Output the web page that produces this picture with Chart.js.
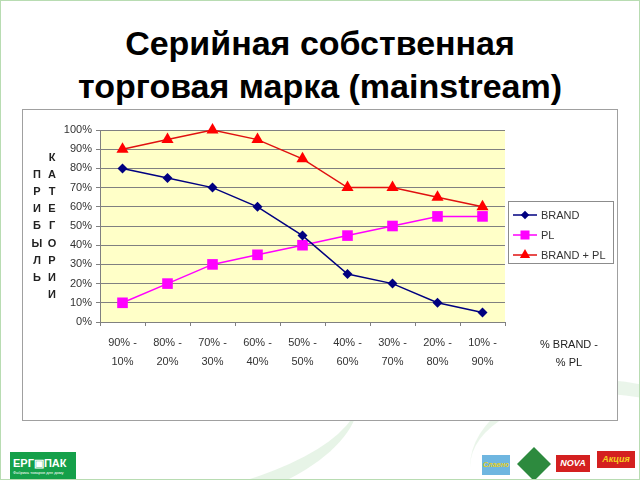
<!DOCTYPE html>
<html>
<head>
<meta charset="utf-8">
<script src="https://cdn.jsdelivr.net/npm/chart.js@4/dist/chart.umd.min.js"></script>
<style>
  html, body { margin: 0; padding: 0; }
  body { width: 640px; height: 480px; position: relative; overflow: hidden; background: #fff; font-family: "Liberation Sans", Arial, sans-serif; }
  .frame { position: absolute; left: 0; top: 0; width: 640px; height: 480px; box-sizing: border-box; border: 1px solid #b8dcb2; pointer-events: none; }
  .swirl { position: absolute; left: -60px; top: 330px; width: 420px; height: 170px; border-radius: 50%; border-bottom: 18px solid rgba(160, 210, 160, 0.25); transform: rotate(-8deg); }
  .swirl2 { position: absolute; left: 470px; top: 380px; width: 260px; height: 160px; border-radius: 50%; border-top: 14px solid rgba(170, 215, 170, 0.25); }
  h1 { position: absolute; left: 0; top: 22px; width: 640px; margin: 0; text-align: center; font-size: 34px; line-height: 43px; font-weight: bold; color: #000; }
  .box { position: absolute; left: 22px; top: 109px; width: 596px; height: 312px; box-sizing: border-box; border: 1px solid #a0a0a0; background: #fff; }
  .logo { position: absolute; left: 10px; top: 452px; width: 66px; height: 27px; background: #15a04a; color: #fff; overflow: hidden; }
  .logo b { display: block; font-size: 11px; line-height: 14px; padding: 4px 0 0 3px; }
  .logo i { display: block; font-size: 4px; font-style: normal; padding-left: 3px; }
  .brands { position: absolute; top: 455px; font-size: 9px; font-weight: bold; font-style: italic; }
</style>
</head>
<body>
<div class="swirl"></div>
<div class="swirl2"></div>
<h1>Серийная собственная<br>торговая марка (mainstream)</h1>
<div class="box"><canvas id="profitChart" width="594" height="310"></canvas></div>
<div class="logo"><b>ЕРГ▣ПАК</b><i>Фабрика товаров для дому</i></div>
<div class="brands" style="left:482px;width:28px;height:20px;background:#6fb6e0;color:#e6d020;font-size:7px;text-align:center;line-height:20px;">Славно</div>
<div class="brands" style="left:522px;top:452px;width:24px;height:24px;background:#2d8a3e;transform:rotate(45deg);"></div>
<div class="brands" style="left:556px;width:34px;height:17px;background:#d42020;color:#fff;text-align:center;line-height:17px;">NOVA</div>
<div class="brands" style="left:597px;top:451px;width:38px;height:17px;background:#d42020;color:#f5d020;text-align:center;line-height:17px;">Акция</div>
<div class="frame"></div>
<script>
// Chart data
const categories = [
  ['90% -', '10%'], ['80% -', '20%'], ['70% -', '30%'], ['60% -', '40%'], ['50% -', '50%'],
  ['40% -', '60%'], ['30% -', '70%'], ['20% -', '80%'], ['10% -', '90%'],
];
const brand = [80, 75, 70, 60, 45, 25, 20, 10, 5];
const pl = [10, 20, 30, 35, 40, 45, 50, 55, 55];
const brandPlusPl = [90, 95, 100, 95, 85, 70, 70, 65, 60];
const yTitleLeft = ['П', 'Р', 'И', 'Б', 'Ы', 'Л', 'Ь'];
const yTitleRight = ['К', 'А', 'Т', 'Е', 'Г', 'О', 'Р', 'И', 'И'];
const xTitle = ['% BRAND -', '% PL'];

const seriesStyles = [
  { label: 'BRAND', data: brand, color: '#000080', line: '#000080', pointStyle: 'rectRot', radius: 5 },
  { label: 'PL', data: pl, color: '#ff00ff', line: '#ff00ff', pointStyle: 'rect', radius: 7.5 },
  { label: 'BRAND + PL', data: brandPlusPl, color: '#ff0000', line: '#e01010', pointStyle: 'triangle', radius: 7 },
];

const font = { family: "'Liberation Sans', Arial, sans-serif", size: 11 };

// yellow plot background
const plotBackground = {
  id: 'plotBackground',
  beforeDraw(chart) {
    const { ctx, chartArea: a } = chart;
    ctx.save();
    ctx.fillStyle = '#ffffc8';
    ctx.fillRect(a.left, a.top, a.right - a.left, a.bottom - a.top);
    ctx.restore();
  },
};

function drawMarker(ctx, style, r, x, y) {
  ctx.beginPath();
  if (style === 'rectRot') {
    ctx.moveTo(x, y - r); ctx.lineTo(x + r, y); ctx.lineTo(x, y + r); ctx.lineTo(x - r, y);
  } else if (style === 'rect') {
    const s = r * Math.SQRT1_2;
    ctx.rect(x - s, y - s, 2 * s, 2 * s);
  } else {
    ctx.moveTo(x, y - r);
    ctx.lineTo(x + r * Math.sin(Math.PI / 3), y + r / 2);
    ctx.lineTo(x - r * Math.sin(Math.PI / 3), y + r / 2);
  }
  ctx.closePath();
  ctx.fill();
}

// legend with line + marker, axis titles in Excel layout
const excelDecor = {
  id: 'excelDecor',
  afterDraw(chart) {
    const { ctx, chartArea: a } = chart;
    ctx.save();
    // legend box
    const lx = a.right + 3, ly = 91;
    ctx.strokeStyle = '#8c8c8c';
    ctx.lineWidth = 1;
    ctx.strokeRect(lx + 0.5, ly + 0.5, 105, 62);
    ctx.font = `${font.size}px ${font.family}`;
    ctx.textBaseline = 'middle';
    seriesStyles.forEach((s, i) => {
      const y = ly + 14 + i * 20;
      ctx.strokeStyle = s.line;
      ctx.lineWidth = 1.5;
      ctx.beginPath();
      ctx.moveTo(lx + 5, y);
      ctx.lineTo(lx + 29, y);
      ctx.stroke();
      ctx.fillStyle = s.color;
      drawMarker(ctx, s.pointStyle, s.radius * 0.85, lx + 17, y);
      ctx.fillStyle = '#333';
      ctx.textAlign = 'left';
      ctx.fillText(s.label, lx + 33, y + 1);
    });
    // x-axis title at the right
    ctx.fillStyle = '#222';
    ctx.textAlign = 'center';
    xTitle.forEach((t, i) => ctx.fillText(t, a.right + 64, 235 + i * 18));
    // vertical y-axis title
    ctx.font = `bold ${font.size}px ${font.family}`;
    yTitleRight.forEach((ch, i) => ctx.fillText(ch, 29, 48 + i * 17.1));
    yTitleLeft.forEach((ch, i) => ctx.fillText(ch, 14, 48 + (i + 1) * 17.1));
    ctx.restore();
  },
};

const ctx = document.getElementById('profitChart').getContext('2d');
new Chart(ctx, {
  type: 'line',
  data: {
    labels: categories,
    datasets: seriesStyles.map((s) => ({
      label: s.label,
      data: s.data,
      borderColor: s.line,
      backgroundColor: s.color,
      borderWidth: 1.5,
      pointStyle: s.pointStyle,
      pointRadius: s.radius,
      pointHoverRadius: s.radius,
      pointBorderWidth: 0,
      tension: 0,
      fill: false,
      clip: false,
    })),
  },
  options: {
    responsive: false,
    animation: false,
    layout: { padding: { top: 20, right: 112, left: 0, bottom: 0 } },
    plugins: {
      legend: { display: false },
      tooltip: { enabled: false },
    },
    scales: {
      x: {
        offset: true,
        grid: { offset: true, drawOnChartArea: false, drawTicks: true, tickLength: 4, color: '#808080' },
        border: { color: '#808080' },
        ticks: { color: '#333', font: { ...font, lineHeight: 1.68 }, padding: 8, maxRotation: 0, autoSkip: false },
        afterFit(scale) { scale.height = 98; },
      },
      y: {
        min: 0,
        max: 100,
        grid: { color: '#808080', tickLength: 4 },
        border: { color: '#808080' },
        ticks: { stepSize: 10, color: '#333', font, padding: 4, callback: (v) => v + '%' },
        afterFit(scale) { scale.width = 77; },
      },
    },
  },
  plugins: [plotBackground, excelDecor],
});
</script>
</body>
</html>
